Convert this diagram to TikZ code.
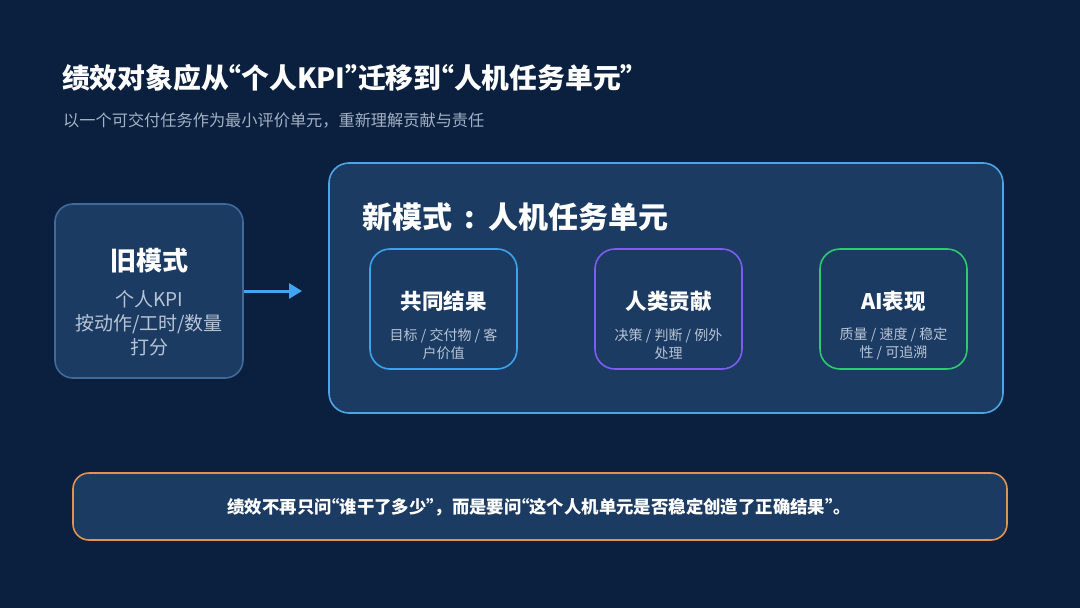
\documentclass[tikz,border=0pt]{standalone}
\usepackage{fontspec}
\setmainfont{Noto Sans CJK SC}
\usetikzlibrary{arrows.meta}
\definecolor{bgc}{HTML}{0B203F}
\definecolor{boxfill}{HTML}{1C3B63}
\definecolor{oldborder}{HTML}{3F6A9A}
\definecolor{bigborder}{HTML}{4AA6E6}
\definecolor{bluec}{HTML}{3BA3EE}
\definecolor{purplec}{HTML}{7C5CF2}
\definecolor{greenc}{HTML}{2BCB6E}
\definecolor{orangec}{HTML}{E0924E}
\definecolor{graytext}{HTML}{B8C4D4}
\definecolor{subgray}{HTML}{A3B1C4}
\definecolor{arrowc}{HTML}{3EA6F2}
\newcommand\myoq{\makebox[0.45em][r]{“}}
\newcommand\mycq{\makebox[0.45em][l]{”}}
\tikzset{
  panel/.style={draw, line width=1.6pt, fill=boxfill, rounded corners=18pt, inner sep=0pt},
  cardbox/.style={panel, minimum width=147pt, minimum height=120pt, rounded corners=20pt},
  cardtitle/.style={font=\bfseries\fontsize{21.5}{26}\selectfont, text=white, inner sep=0pt},
  cardtext/.style={font=\fontsize{14}{18}\selectfont, text=graytext, align=center, inner sep=0pt},
}
\begin{document}
\begin{tikzpicture}[x=1pt,y=-1pt]
\fill[bgc] (0,0) rectangle (1080,608);
\useasboundingbox (0,0) rectangle (1080,608);

% title
\node[anchor=base west, inner sep=0pt, text=white, font=\bfseries\fontsize{27.8}{32}\selectfont] (title) at (62,88) {绩效对象应从\myoq 个人KPI\mycq 迁移到\myoq 人机任务单元\mycq};
\node[anchor=base west, inner sep=0pt, text=subgray, font=\fontsize{16.2}{20}\selectfont] (subtitle) at (63,126) {以一个可交付任务作为最小评价单元，重新理解贡献与责任};

% old mode
\node[panel, draw=oldborder, minimum width=188pt, minimum height=174pt] (old) at (149,291) {};
\node[inner sep=0pt, text=white, font=\bfseries\fontsize{26}{30}\selectfont] (oldtitle) at (149,261) {旧模式};
\node[inner sep=0pt, text=graytext, font=\fontsize{19}{24}\selectfont, align=center] (oldtext) at (149,323) {个人KPI\\按动作/工时/数量\\打分};

% arrow
\coordinate (arrend) at (302,291);
\draw[arrowc, line width=3pt, -{Triangle[length=13pt,width=15pt]}] (old.east) -- (arrend);

% new mode
\node[panel, draw=bigborder, minimum width=674pt, minimum height=250pt, rounded corners=20pt] (new) at (666,288) {};
\node[anchor=west, inner sep=0pt, text=white, font=\bfseries\fontsize{30}{34}\selectfont] (newtitle) at (362,217) {新模式\makebox[1.2em][c]{:}人机任务单元};

\node[cardbox, draw=bluec] (c1) at (443.5,309) {};
\node[cardbox, draw=purplec] (c2) at (668.5,309) {};
\node[cardbox, draw=greenc] (c3) at (893.5,309) {};

\node[cardtitle] (c1t) at (443.5,301) {共同结果};
\node[cardtitle] (c2t) at (668.5,301) {人类贡献};
\node[cardtitle] (c3t) at (893.5,301) {AI表现};

\node[cardtext] (c1s) at (443.5,344) {目标 / 交付物 / 客\\户价值};
\node[cardtext] (c2s) at (668.5,344) {决策 / 判断 / 例外\\处理};
\node[cardtext] (c3s) at (893.5,344) {质量 / 速度 / 稳定\\性 / 可追溯};

% bottom
\node[panel, draw=orangec, minimum width=934pt, minimum height=67pt, rounded corners=16pt] (bottom) at (540,506.5) {};
\node[inner sep=0pt, text=white, font=\bfseries\fontsize{17.4}{20}\selectfont] (bottomtext) at (539,507) {绩效不再只问\myoq 谁干了多少\mycq ，而是要问\myoq 这个人机单元是否稳定创造了正确结果\mycq 。};
\end{tikzpicture}
\end{document}
